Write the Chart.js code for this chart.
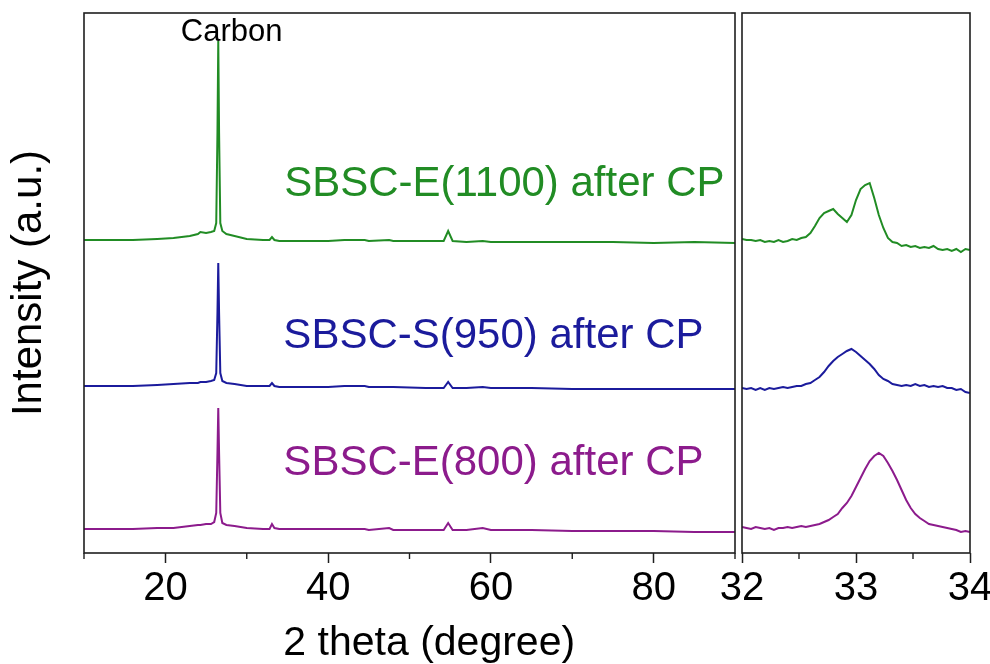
<!DOCTYPE html>
<html>
<head>
<meta charset="utf-8">
<title>XRD patterns after CP</title>
<script src="https://cdn.jsdelivr.net/npm/chart.js@4.4.1/dist/chart.umd.min.js"></script>
<style>
  html, body { margin: 0; padding: 0; background: #fff; overflow: hidden; }
  #wrap { position: relative; width: 990px; height: 664px; }
  #wrap canvas { position: absolute; top: 0; }
  #wideChart { left: 0; }
  #zoomChart { left: 700px; }
</style>
</head>
<body>
<div id="wrap">
  <canvas id="wideChart" width="740" height="664"></canvas>
  <canvas id="zoomChart" width="292" height="664"></canvas>
</div>
<script>
// full scan, 2 theta in degrees
const wideTheta = [10, 13, 16, 19, 21, 23, 24, 24.3, 25, 25.6,
  26.0, 26.25, 26.4, 26.5, 26.6, 26.75, 27.0, 27.5, 28.5, 30,
  32, 32.8, 33.1, 33.4, 34, 36, 40, 42, 44.5, 45,
  47.5, 48, 52, 54.2, 54.75, 55.3, 57, 59, 60, 65,
  70, 75, 80, 85, 90];
const wideE1100 = [13, 13, 13, 14, 15, 17, 19, 21, 20, 21,
  22, 30, 120, 212, 120, 30, 22, 19, 17, 14,
  13, 13, 16, 13, 12, 12, 12, 13, 13, 12,
  13, 12, 12, 12, 22, 12, 11, 12, 11, 11,
  11, 11, 10, 11, 10];
const wideS950 = [12, 12, 12, 13, 14, 15, 15, 16, 16, 17,
  18, 25, 85, 135, 85, 25, 17, 15, 14, 12,
  12, 12, 15, 12, 11, 11, 11, 12, 12, 11,
  11, 11, 10, 10, 16, 10, 10, 11, 10, 10,
  9, 9, 9, 9, 9];
const wideE800 = [9, 9, 9, 10, 10, 12, 13, 13, 14, 14,
  16, 25, 85, 130, 85, 25, 15, 13, 12, 10,
  9, 9, 14, 10, 9, 9, 9, 9, 9, 8,
  10, 8, 8, 8, 15, 8, 8, 10, 8, 8,
  7, 7, 7, 6, 6];

// slow scan over 32-34 degrees
const zoomTheta = [32.00, 32.04, 32.08, 32.12, 32.16, 32.20, 32.24, 32.28, 32.32, 32.36,
  32.40, 32.44, 32.48, 32.52, 32.56, 32.60, 32.64, 32.68, 32.72, 32.76,
  32.80, 32.84, 32.88, 32.92, 32.96, 33.00, 33.04, 33.08, 33.12, 33.16,
  33.20, 33.24, 33.28, 33.32, 33.36, 33.40, 33.44, 33.48, 33.52, 33.56,
  33.60, 33.64, 33.68, 33.72, 33.76, 33.80, 33.84, 33.88, 33.92, 33.96,
  34.00];
const zoomE1100 = [14, 13, 13, 12, 13, 11, 12, 11, 13, 11,
  12, 14, 13, 15, 16, 20, 27, 35, 40, 42,
  44, 39, 35, 31, 38, 53, 64, 68, 70, 55,
  38, 25, 15, 11, 10, 7, 8, 6, 7, 5,
  6, 5, 7, 4, 3, 4, 2, 4, 1, 4,
  3];
const zoomS950 = [10, 9, 10, 8, 10, 8, 10, 9, 10, 11,
  10, 11, 12, 12, 14, 15, 18, 21, 26, 32,
  37, 41, 44, 47, 49, 46, 42, 38, 34, 29,
  23, 19, 17, 14, 13, 12, 13, 12, 14, 12,
  13, 11, 12, 11, 12, 10, 10, 8, 9, 6,
  5];
const zoomE800 = [11, 10, 9, 11, 10, 9, 10, 8, 10, 10,
  11, 10, 11, 12, 11, 12, 13, 14, 16, 18,
  21, 24, 30, 35, 42, 51, 60, 69, 77, 82,
  85, 82, 75, 67, 58, 48, 38, 30, 24, 20,
  17, 14, 13, 12, 11, 10, 9, 8, 6, 7,
  6];

const sampleNames = ['SBSC-E(1100) after CP', 'SBSC-S(950) after CP', 'SBSC-E(800) after CP'];
// patterns are shifted upward so they do not overlap
const stackOffsets = [300, 155, 15];
const sampleColors = ['#218c24', '#1b1b9c', '#8c1b8c'];

const FONT = "'Liberation Sans', Arial, sans-serif";
const frameColor = '#1e1e1e';

function stacked(theta, values, offset) {
  return theta.map((t, i) => ({ x: t, y: values[i] + offset }));
}

function datasets(theta, series) {
  return series.map((vals, i) => ({
    label: sampleNames[i],
    data: stacked(theta, vals, stackOffsets[i]),
    borderColor: sampleColors[i],
    borderWidth: 2,
    pointRadius: 0,
    tension: 0
  }));
}

// box around the plot area, short minor ticks and free text
const frameNotes = {
  id: 'frameNotes',
  afterDraw(chart, args, opts) {
    const { ctx, chartArea: a, scales: { x, y } } = chart;
    ctx.save();
    ctx.strokeStyle = frameColor;
    ctx.lineWidth = 1.6;
    ctx.strokeRect(a.left, a.top, a.right - a.left, a.bottom - a.top);
    ctx.lineWidth = 1.4;
    (opts.minor || []).forEach(v => {
      const px = x.getPixelForValue(v);
      ctx.beginPath();
      ctx.moveTo(px, a.bottom);
      ctx.lineTo(px, a.bottom + 6);
      ctx.stroke();
    });
    (opts.notes || []).forEach(n => {
      ctx.font = n.size + 'px ' + FONT;
      ctx.fillStyle = n.color;
      ctx.textAlign = 'left';
      ctx.textBaseline = 'alphabetic';
      ctx.fillText(n.text, x.getPixelForValue(n.x), y.getPixelForValue(n.y));
    });
    ctx.restore();
  }
};

function panelOptions(cfg) {
  return {
    responsive: false,
    animation: false,
    devicePixelRatio: 1,
    layout: { padding: cfg.padding },
    plugins: {
      legend: { display: false },
      tooltip: { enabled: false },
      frameNotes: { minor: cfg.minor, notes: cfg.notes }
    },
    scales: {
      x: {
        type: 'linear',
        min: cfg.min,
        max: cfg.max,
        ticks: {
          stepSize: cfg.step,
          autoSkip: false,
          maxRotation: 0,
          minRotation: 0,
          padding: 2,
          color: '#000',
          font: { family: FONT, size: 40 },
          callback: v => cfg.isMajor(v) ? String(v) : ''
        },
        grid: {
          display: true,
          drawOnChartArea: false,
          tickLength: 10,
          tickWidth: 1.5,
          tickColor: c => (c.tick && cfg.isMajor(c.tick.value)) ? frameColor : 'rgba(0,0,0,0)'
        },
        border: { display: false },
        afterFit: s => { s.height = 111; s.paddingLeft = 0; s.paddingRight = 0; }
      },
      y: {
        min: 0,
        max: 540,
        display: cfg.showY,
        ticks: { display: false },
        grid: { display: false },
        border: { display: false },
        title: {
          display: true,
          text: 'Intensity (a.u.)',
          color: '#000',
          font: { family: FONT, size: 42 }
        },
        afterFit: s => { s.width = cfg.showY ? 84 : 0; }
      }
    }
  };
}

new Chart(document.getElementById('wideChart'), {
  type: 'line',
  data: { datasets: datasets(wideTheta, [wideE1100, wideS950, wideE800]) },
  options: panelOptions({
    min: 10, max: 90, step: 10,
    isMajor: v => v % 20 === 0 && v > 10 && v < 90,
    minor: [10, 30, 50, 70, 90],
    padding: { left: 0, right: 5, top: 13, bottom: 0 },
    showY: true,
    notes: [
      { text: 'Carbon', x: 21.9, y: 512, size: 31, color: '#000' },
      { text: sampleNames[0], x: 34.6, y: 357, size: 42, color: sampleColors[0] },
      { text: sampleNames[1], x: 34.5, y: 205, size: 42, color: sampleColors[1] },
      { text: sampleNames[2], x: 34.5, y: 78, size: 42, color: sampleColors[2] },
      { text: '2 theta (degree)', x: 34.5, y: -102, size: 41, color: '#000' }
    ]
  }),
  plugins: [frameNotes]
});

new Chart(document.getElementById('zoomChart'), {
  type: 'line',
  data: { datasets: datasets(zoomTheta, [zoomE1100, zoomS950, zoomE800]) },
  options: panelOptions({
    min: 32, max: 34, step: 0.5,
    isMajor: v => Number.isInteger(v),
    minor: [32.5, 33.5],
    padding: { left: 42, right: 22, top: 13, bottom: 0 },
    showY: false,
    notes: []
  }),
  plugins: [frameNotes]
});
</script>
</body>
</html>
